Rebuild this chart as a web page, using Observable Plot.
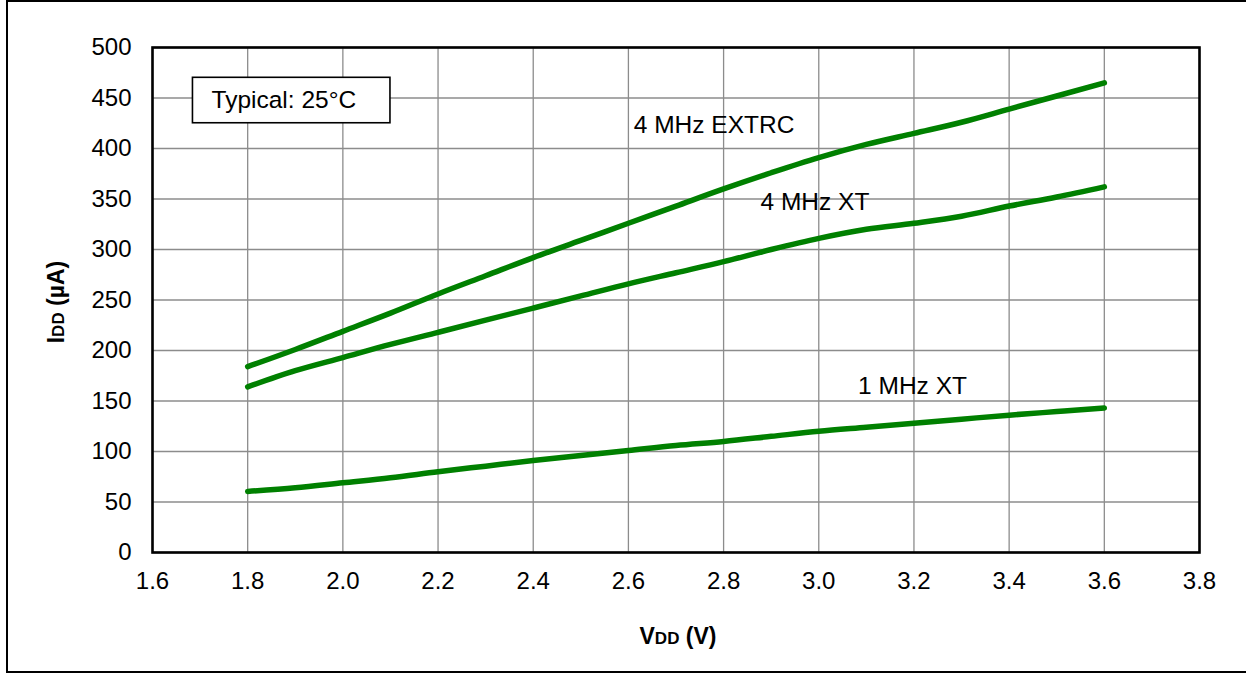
<!DOCTYPE html>
<html><head><meta charset="utf-8">
<script src="https://cdn.jsdelivr.net/npm/d3@7"></script>
<script src="https://cdn.jsdelivr.net/npm/@observablehq/plot@0.6"></script>
<style>
body{margin:0;background:#fff;}
#wrap{position:relative;width:1246px;height:673px;overflow:hidden;}
#chart{position:absolute;left:0;top:0;}
#border{position:absolute;left:6px;top:0px;width:1260px;height:673px;border:2px solid #000;box-sizing:border-box;pointer-events:none;}
</style></head><body>
<div id="wrap"><div id="chart"></div><div id="border"></div></div>
<script>
// ---- data ----
const vdd = [1.8, 1.9, 2.0, 2.1, 2.2, 2.3, 2.4, 2.5, 2.6, 2.7, 2.8, 2.9, 3.0, 3.1, 3.2, 3.3, 3.4, 3.5, 3.6];
const extrc4MHz = [184, 201, 219, 237, 256, 274, 292, 309, 326, 343, 360, 376, 391, 404, 415, 426, 439, 452, 465];
const xt4MHz    = [164, 180, 193, 206, 218, 230, 242, 254, 266, 277, 288, 300, 311, 320, 326, 333, 343, 352, 362];
const xt1MHz    = [60.5, 64, 69, 74, 80, 85.5, 91, 96, 101, 106, 110, 115, 120, 124, 128, 132, 136, 139.5, 143];
const seriesNames = ["4 MHz EXTRC", "4 MHz XT", "1 MHz XT"];
const xTicks = [1.6, 1.8, 2.0, 2.2, 2.4, 2.6, 2.8, 3.0, 3.2, 3.4, 3.6, 3.8];
const yTicks = [0, 50, 100, 150, 200, 250, 300, 350, 400, 450, 500];
// label anchor positions (data units)
const labelX = [2.78, 2.992, 3.197];
const labelY = [423, 347, 165];
const noteText = "Typical: 25°C";

const seriesValues = [extrc4MHz, xt4MHz, xt1MHz];
const rows = seriesNames.flatMap((s, i) => vdd.map((v, j) => ({series: s, vdd: v, idd: seriesValues[i][j]})));
const labels = seriesNames.map((s, i) => ({text: s, x: labelX[i], y: labelY[i]}));

const FONT = "'Liberation Sans', Arial, sans-serif";
const plot = Plot.plot({
  width: 1246, height: 673,
  marginLeft: 152, marginRight: 47, marginTop: 47, marginBottom: 121,
  style: {fontFamily: FONT, fontSize: "24px", color: "#000", background: "transparent"},
  x: {domain: [1.6, 3.8]},
  y: {domain: [0, 500]},
  marks: [
    Plot.gridX(xTicks, {stroke: "#8c8c8c", strokeOpacity: 1, strokeWidth: 1.3}),
    Plot.gridY(yTicks, {stroke: "#8c8c8c", strokeOpacity: 1, strokeWidth: 1.3}),
    Plot.axisX(xTicks, {tickSize: 0, tickPadding: 19, label: null, tickFormat: d3.format(".1f"), fontSize: 24}),
    Plot.axisY(yTicks, {tickSize: 0, tickPadding: 21, label: null, fontSize: 24}),
    Plot.rect([{x1: 1.685, x2: 2.1, y1: 425, y2: 470}], {x1: "x1", x2: "x2", y1: "y1", y2: "y2", fill: "white", stroke: "#000", strokeWidth: 1.6}),
    Plot.text([noteText], {x: [1.876], y: [447.5], text: d => d, fontSize: 24.5, fill: "#000"}),
    Plot.line(rows, {x: "vdd", y: "idd", z: "series", stroke: "#008000", strokeWidth: 5.5, curve: "monotone-x", strokeLinecap: "round", strokeLinejoin: "round"}),
    Plot.text(labels, {x: "x", y: "y", text: "text", fontSize: 24.5, fill: "#000", className: "serieslbl"}),
    Plot.frame({stroke: "#000", strokeWidth: 2.6})
  ]
});
document.getElementById("chart").append(plot);

// white backgrounds behind series labels
const svg = d3.select(plot);
svg.selectAll(".serieslbl text").each(function() {
  const b = this.getBBox();
  d3.select(this.parentNode).insert("rect", () => this)
    .attr("x", b.x - 9).attr("y", b.y - 3).attr("width", b.width + 18).attr("height", b.height + 6)
    .attr("fill", "white");
});

// axis titles with small-caps style subscripts
const xt = svg.append("text").attr("x", 678).attr("y", 644).attr("text-anchor", "middle")
  .attr("font-family", FONT).attr("font-weight", "bold").attr("font-size", 23).attr("fill", "#000");
xt.append("tspan").text("V");
xt.append("tspan").attr("font-size", 17).text("DD");
xt.append("tspan").text(" (V)");

const yt = svg.append("text").attr("transform", "translate(64,302) rotate(-90)").attr("text-anchor", "middle")
  .attr("font-family", FONT).attr("font-weight", "bold").attr("font-size", 23).attr("fill", "#000");
yt.append("tspan").text("I");
yt.append("tspan").attr("font-size", 17).text("DD");
yt.append("tspan").text(" (µA)");
</script>
</body></html>
